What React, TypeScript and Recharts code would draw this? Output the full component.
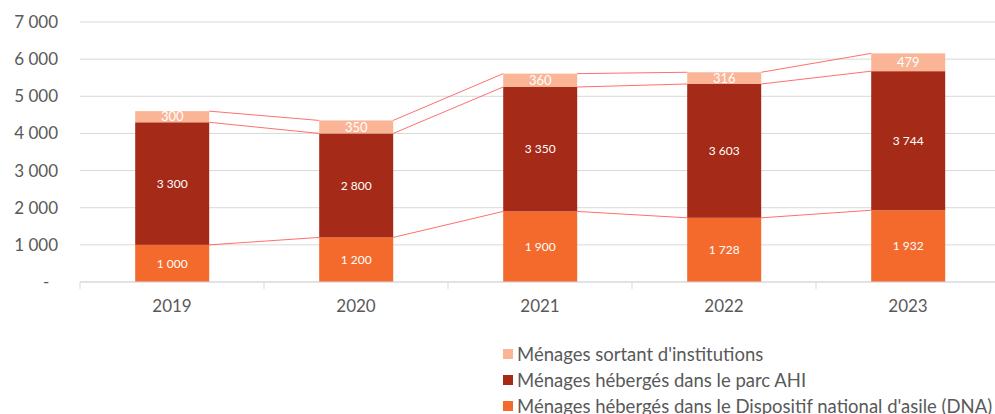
import React from 'react'
import { Bar, BarChart, CartesianGrid, LabelList, XAxis, YAxis } from 'recharts'

const categories = ['2019', '2020', '2021', '2022', '2023']
const dna = [1000, 1200, 1900, 1728, 1932]
const ahi = [3300, 2800, 3350, 3603, 3744]
const sortant = [300, 350, 360, 316, 479]
const yTicks = [0, 1000, 2000, 3000, 4000, 5000, 6000, 7000]

const seriesNames = {
  sortant: "Ménages sortant d'institutions",
  ahi: 'Ménages hébergés dans le parc AHI',
  dna: "Ménages hébergés dans le Dispositif national d'asile (DNA)",
}

const colors = { dna: '#f46a2c', ahi: '#a52a17', sortant: '#f9b596' }

const data = categories.map((year, i) => ({ year, dna: dna[i], ahi: ahi[i], sortant: sortant[i] }))

const fmt = (v: number) => (v === 0 ? '-\u00a0\u00a0' : v.toLocaleString('fr-FR').replace(/\s/g, '\u00a0'))
const fmtIn = (v: any) => Number(v).toLocaleString('fr-FR').replace(/\s/g, '\u202f')

// right-top corner of each bar, recorded as they render, so the next bar can draw the series line
const corners: Record<string, { x: number; y: number }[]> = { dna: [], ahi: [], sortant: [] }

function seriesShape(key: 'dna' | 'ahi' | 'sortant') {
  return (props: any) => {
    const { x, y, width, height, index } = props
    corners[key][index] = { x: x + width, y }
    const prev = index > 0 ? corners[key][index - 1] : null
    return (
      <g>
        <rect x={x} y={y} width={width} height={height} fill={colors[key]} />
        {prev && <line x1={prev.x} y1={prev.y} x2={x} y2={y} stroke="#ff5f5f" strokeWidth={0.9} />}
      </g>
    )
  }
}

function YearTick(props: any) {
  const { x, y, payload, index } = props
  const half = payload.offset ?? 92
  return (
    <g>
      <line x1={x - half} x2={x - half} y1={y} y2={y + 7} stroke="#d9d9d9" />
      {index === categories.length - 1 && <line x1={x + half} x2={x + half} y1={y} y2={y + 7} stroke="#d9d9d9" />}
      <text x={x} y={y + 23} textAnchor="middle" dominantBaseline="central" fill="#595959" fontSize={17}>
        {payload.value}
      </text>
    </g>
  )
}

const legendOrder: ('sortant' | 'ahi' | 'dna')[] = ['sortant', 'ahi', 'dna']

export default function App() {
  return (
    <div style={{ position: 'absolute', left: 0, top: 0, width: 995, height: 414, overflow: 'hidden', background: '#fff', fontFamily: 'Lato, sans-serif' }}>
      <BarChart width={1000} height={414} data={data} margin={{ top: 22, right: 0, bottom: 0, left: 0 }} barCategoryGap="30%">
        <CartesianGrid vertical={false} stroke="#d9d9d9" />
        <XAxis dataKey="year" height={132} tickLine={false} tickSize={0} tickMargin={0} axisLine={{ stroke: '#d9d9d9' }} tick={<YearTick />} interval={0} />
        <YAxis width={80} domain={[0, 7000]} ticks={yTicks} tickFormatter={fmt} axisLine={false} tickLine={false} tickSize={0} tickMargin={22} tick={{ fill: '#595959', fontSize: 17 }} />
        <Bar dataKey="dna" stackId="a" isAnimationActive={false} shape={seriesShape('dna')}>
          <LabelList dataKey="dna" position="center" formatter={fmtIn} fill="#fff" fontSize={12} />
        </Bar>
        <Bar dataKey="ahi" stackId="a" isAnimationActive={false} shape={seriesShape('ahi')}>
          <LabelList dataKey="ahi" position="center" formatter={fmtIn} fill="#fff" fontSize={12} />
        </Bar>
        <Bar dataKey="sortant" stackId="a" isAnimationActive={false} shape={seriesShape('sortant')}>
          <LabelList dataKey="sortant" position="center" formatter={fmtIn} fill="#fff" fontSize={13} />
        </Bar>
      </BarChart>
      <div style={{ position: 'absolute', left: 503, top: 341 }}>
        {legendOrder.map((k) => (
          <div key={k} style={{ display: 'flex', alignItems: 'center', height: 26, whiteSpace: 'nowrap' }}>
            <span style={{ width: 10, height: 10, background: colors[k], marginRight: 4 }} />
            <span style={{ fontSize: 18.5, color: '#595959' }}>{seriesNames[k]}</span>
          </div>
        ))}
      </div>
    </div>
  )
}
